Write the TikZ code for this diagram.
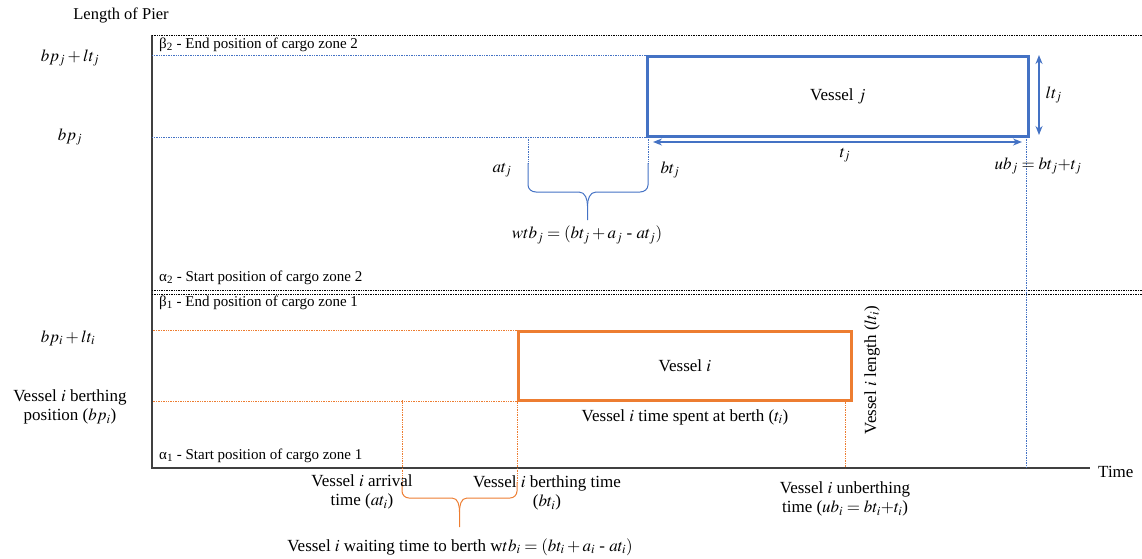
\documentclass[tikz,border=0pt]{standalone}
\usepackage{mathptmx}
\usepackage{fontspec}
\setmainfont{Liberation Serif}
\usetikzlibrary{arrows.meta, positioning}
\definecolor{vesselblue}{RGB}{68,114,196}
\definecolor{vesselorange}{RGB}{237,125,49}
\tikzset{
    lbl/.style={font=\fontsize{17}{19}\selectfont, align=center, inner sep=1pt}, % ordinary labels
    zonelbl/.style={font=\fontsize{15}{17}\selectfont, anchor=west, inner sep=1pt}, % cargo zone limits
    guide/.style={densely dotted, line width=0.7pt}, % thin projection lines
    vessel/.style={draw, line width=2.8pt, lbl}, % occupied berth rectangle
    dimarrow/.style={line width=1.3pt, {Stealth[length=9pt,width=7pt]}-{Stealth[length=9pt,width=7pt]}},
    brace/.style={line width=1pt},
}

\begin{document}
\begin{tikzpicture}[x=1pt, y=-1pt]
    \useasboundingbox (0,0) rectangle (1142,558);

    % axes
    \coordinate (ytop) at (152,35);
    \coordinate (origin) at (152,468);
    \coordinate (xend) at (1090,468);
    \draw[line width=1.2pt, black!75] (ytop) -- (origin) -- (xend);
    \node[lbl, anchor=west] (time) at (1097,472) {Time};
    \node[lbl, font=\fontsize{16.5}{18}\selectfont] (pier) at (121,15) {Length of Pier};

    % cargo zone limits
    \coordinate (zonetopR) at (1142,35);
    \coordinate (zoneaL) at (152,290.5);   \coordinate (zoneaR) at (1142,290.5);
    \coordinate (zonebL) at (152,294);     \coordinate (zonebR) at (1142,294);
    \draw[guide, black] (ytop) -- (zonetopR);
    \draw[guide, black] (zoneaL) -- (zoneaR);
    \draw[guide, black] (zonebL) -- (zonebR);
    \node[zonelbl] (beta2) at (158,45) {β\textsubscript{2} - End position of cargo zone 2};
    \node[zonelbl] (alpha2) at (158,278) {α\textsubscript{2} - Start position of cargo zone 2};
    \node[zonelbl] (beta1) at (158,303) {β\textsubscript{1} - End position of cargo zone 1};
    \node[zonelbl] (alpha1) at (158,456) {α\textsubscript{1} - Start position of cargo zone 1};

    % vessel j
    \node[vessel, draw=vesselblue, minimum width=381pt, minimum height=80pt, anchor=north west] (vj) at (646,55) {Vessel $j$};
    \draw[guide, vesselblue] (vj.north west) -- (vj.north west -| origin);
    \draw[guide, vesselblue] (vj.south west) -- (vj.south west -| origin);
    \coordinate (ubj) at (1026,137);
    \draw[guide, vesselblue] (ubj) -- (ubj |- origin);
    \coordinate (ltjtop) at (1039,55);
    \coordinate (ltjbot) at (1039,135);
    \draw[dimarrow, vesselblue] (ltjtop) -- (ltjbot) node[midway, right=5pt, lbl, text=black] (ltj) {$lt_j$};
    \coordinate (tjL) at (653,142);
    \coordinate (tjR) at (1022,142);
    \draw[dimarrow, vesselblue] (tjL) -- (tjR);
    \node[lbl] (tj) at (845,155) {$t_j$};
    \coordinate (atj) at (528,137);  \coordinate (atjend) at (528,163);
    \coordinate (btj) at (648,137);  \coordinate (btjend) at (648,163);
    \draw[guide, vesselblue] (atj) -- (atjend);
    \draw[guide, vesselblue] (btj) -- (btjend);
    \coordinate (bjmid) at (587.5,206);
    \coordinate (bjtip) at (587.5,220);
    \draw[brace, vesselblue] (atjend) -- (528,185) to[out=-90,in=180] (536,192) -- (579,192) to[out=0,in=90] (bjmid) -- (bjtip);
    \draw[brace, vesselblue] (btjend) -- (648,185) to[out=-90,in=0] (640,192) -- (596,192) to[out=180,in=90] (bjmid);
    \node[lbl] (atjlbl) at (502,170) {$at_j$};
    \node[lbl] (btjlbl) at (670,170) {$bt_j$};
    \node[lbl] (wtbj) at (587,235) {$wtb_j = (bt_j + a_j$ - $at_j)$};
    \node[lbl] (ubjlbl) at (1038,166) {$ub_j = bt_j{+}t_j$};

    % vessel i
    \node[vessel, draw=vesselorange, minimum width=333pt, minimum height=69pt, anchor=north west] (vi) at (517,330) {Vessel $i$};
    \draw[guide, vesselorange] (vi.north west) -- (vi.north west -| origin);
    \draw[guide, vesselorange] (vi.south west) -- (vi.south west -| origin);
    \coordinate (ati) at (402,400);  \coordinate (atiend) at (402,482);
    \coordinate (bti) at (517,400);  \coordinate (btiend) at (517,482);
    \coordinate (ubi) at (845,400);
    \draw[guide, vesselorange] (ati) -- (atiend);
    \draw[guide, vesselorange] (bti) -- (btiend);
    \draw[guide, vesselorange] (ubi) -- (ubi |- origin);
    \coordinate (bimid) at (459.5,512);
    \coordinate (bitip) at (459.5,527);
    \draw[brace, vesselorange] (atiend) -- (402,491) to[out=-90,in=180] (409,498) -- (452,498) to[out=0,in=90] (bimid) -- (bitip);
    \draw[brace, vesselorange] (btiend) -- (517,491) to[out=-90,in=0] (510,498) -- (467,498) to[out=180,in=90] (bimid);
    \node[lbl] (tilbl) at (685,417) {Vessel $i$ time spent at berth ($t_i$)};
    \node[lbl, rotate=90] (ltilbl) at (872,370) {Vessel $i$ length ($lt_i$)};
    \node[lbl] (atilbl) at (362,492) {Vessel $i$ arrival\\time ($at_i$)};
    \node[lbl] (btilbl) at (547,493) {Vessel $i$ berthing time\\($bt_i$)};
    \node[lbl] (wtbi) at (460,547) {Vessel $i$ waiting time to berth w$tb_i = (bt_i + a_i$ - $at_i)$};
    \node[lbl] (ubilbl) at (845,499) {Vessel $i$ unberthing\\time ($ub_i = bt_i{+}t_i$)};

    % pier positions
    \node[lbl] (bpjlt) at (70,58) {$bp_j + lt_j$};
    \node[lbl] (bpj) at (70,137) {$bp_j$};
    \node[lbl] (bpilt) at (68,338) {$bp_i + lt_i$};
    \node[lbl] (bpi) at (70,407) {Vessel $i$ berthing\\position ($bp_i$)};
\end{tikzpicture}
\end{document}
